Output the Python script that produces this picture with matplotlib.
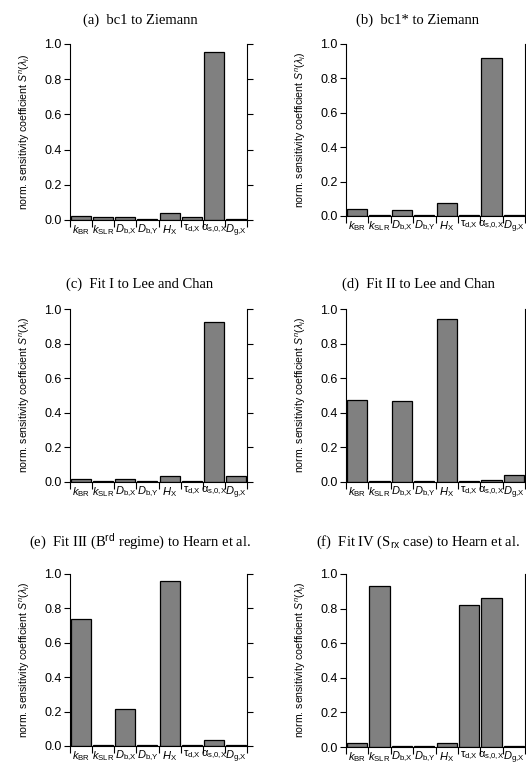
import matplotlib
matplotlib.use("Agg")
import matplotlib.pyplot as plt
import numpy as np

plt.rcParams['font.family'] = ['Liberation Sans', 'DejaVu Sans']
plt.rcParams['mathtext.fontset'] = 'custom'
plt.rcParams['mathtext.rm'] = 'Liberation Sans'
plt.rcParams['mathtext.it'] = 'Liberation Sans:italic'
plt.rcParams['mathtext.bf'] = 'Liberation Sans:bold'

# parameter labels (x axis)
params = [r'$k_{\mathrm{BR}}$', r'$k_{\mathrm{SLR}}$', r'$D_{\mathrm{b{,}X}}$', r'$D_{\mathrm{b{,}Y}}$',
          r'$H_{\mathrm{X}}$', r'$\mathrm{\tau}_{\mathrm{d{,}X}}$', r'$\mathrm{\alpha}_{\mathrm{s{,}0{,}X}}$',
          r'$D_{\mathrm{g{,}X}}$']

titles = ['(a)  bc1 to Ziemann',
          '(b)  bc1* to Ziemann',
          '(c)  Fit I to Lee and Chan',
          '(d)  Fit II to Lee and Chan',
          r'(e)  Fit III (B$^{\mathrm{rd}}$ regime) to Hearn et al.',
          r'(f)  Fit IV (S$_{\mathrm{rx}}$ case) to Hearn et al.']

# normalized sensitivity coefficients
vals_a = [0.023, 0.015, 0.017, 0.006, 0.038, 0.017, 0.956, 0.006]
vals_b = [0.041, 0.005, 0.033, 0.005, 0.077, 0.005, 0.921, 0.005]
vals_c = [0.019, 0.008, 0.019, 0.008, 0.037, 0.008, 0.925, 0.037]
vals_d = [0.472, 0.006, 0.468, 0.006, 0.944, 0.006, 0.010, 0.039]
vals_e = [0.737, 0.008, 0.218, 0.008, 0.961, 0.008, 0.037, 0.008]
vals_f = [0.021, 0.928, 0.006, 0.006, 0.025, 0.820, 0.861, 0.006]
all_vals = [vals_a, vals_b, vals_c, vals_d, vals_e, vals_f]

W, H = 526, 765
fig = plt.figure(figsize=(W / 100, H / 100), dpi=100)

# axes boxes in pixels: left, right, top, bottom
boxes = [(70, 247, 44, 220), (346, 525, 44, 216),
         (70, 247, 309, 482), (346, 525, 309, 482),
         (70, 247, 574, 746), (346, 525, 574, 747)]
# title centres in pixels
title_pos = [(140, 20), (418, 20), (140, 284), (418, 284), (140, 542), (418, 542)]

serif = ['Liberation Serif', 'DejaVu Serif']

for box, vals, title, tp in zip(boxes, all_vals, titles, title_pos):
    l, r, t, b = box
    ax = fig.add_axes([l / W, 1 - b / H, (r - l) / W, (b - t) / H])
    x = np.arange(len(vals))
    ax.bar(x, vals, width=0.9, color='#808080', edgecolor='black', linewidth=0.9)
    ax.set_xlim(-0.5, len(vals) - 0.5)
    ax.set_ylim(0, 1.0)
    ax.set_yticks([0.0, 0.2, 0.4, 0.6, 0.8, 1.0])
    ax.set_yticklabels(['0.0', '0.2', '0.4', '0.6', '0.8', '1.0'], fontsize=9)
    ax.set_xticks(np.arange(len(vals) + 1) - 0.5)
    ax.set_xticklabels([])
    ax.set_xticks(x, minor=True)
    ax.set_xticklabels(params, minor=True, fontsize=8)
    ax.tick_params(axis='x', which='major', direction='out', length=5, width=0.8)
    ax.tick_params(axis='x', which='minor', length=0, pad=2)
    ax.tick_params(axis='y', direction='out', length=4, width=0.8, right=True, labelright=False, pad=2)
    ax.spines['top'].set_visible(False)
    for s in ['left', 'right', 'bottom']:
        ax.spines[s].set_linewidth(0.8)
    ax.set_ylabel(r'norm. sensitivity coefficient $S^{n}(\lambda_{i})$', fontsize=7.6, labelpad=9)
    fig.text(tp[0] / W, 1 - tp[1] / H, title, family=serif, fontsize=10.5,
             ha='center', va='center')

fig.savefig('out.png', dpi=100)
